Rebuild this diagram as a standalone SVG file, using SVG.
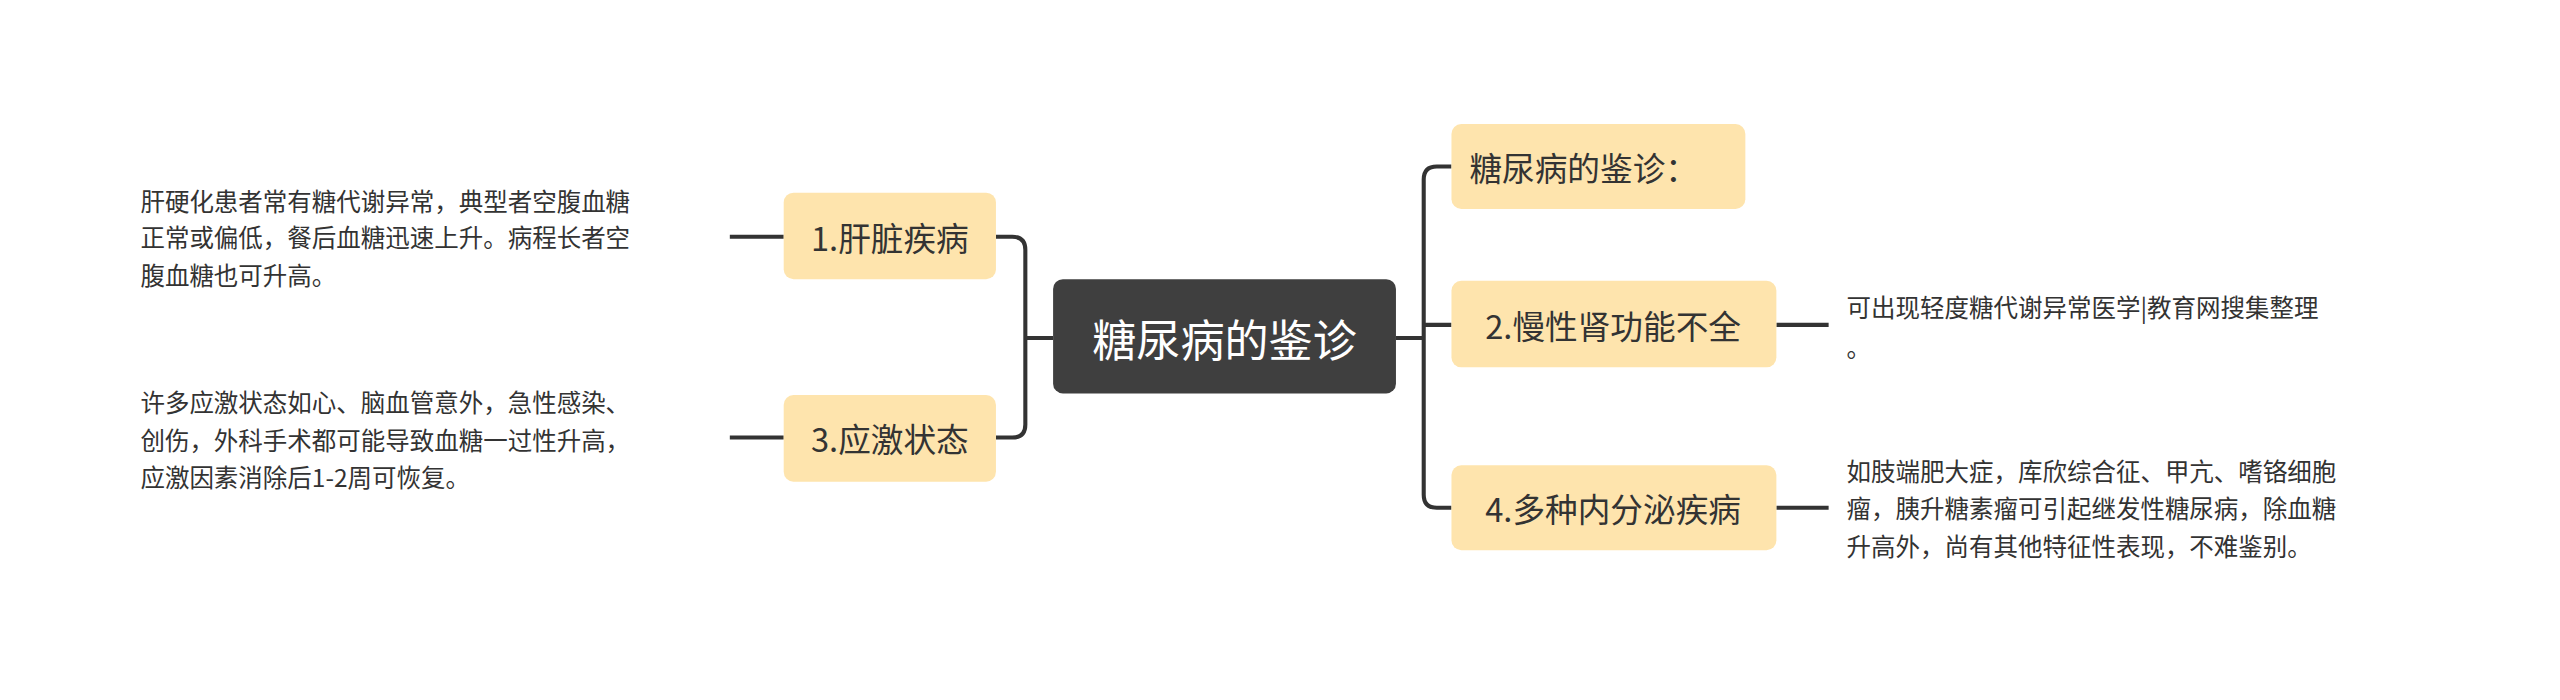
<svg xmlns="http://www.w3.org/2000/svg" width="2560" height="700" viewBox="0 0 2560 700">
<style>
.n{fill:#fee4ad}
.t{font-family:"Noto Sans CJK SC","Noto Sans",sans-serif;fill:#333;font-size:20px;dominant-baseline:central}
.l{font-family:"Noto Sans CJK SC","Noto Sans",sans-serif;fill:#333;font-size:15px;dominant-baseline:central}
.c{fill:none;stroke:#333;stroke-width:2.5}
</style>
<rect width="2560" height="700" fill="#fff"/>
<g transform="scale(1.6327)">
<g id="connectors">
<path class="c" d="M645 207H628M628 207V153Q628 145 620 145H610M628 207V260Q628 268 620 268H610"/>
<path class="c" d="M855 207H872M872 207V110Q872 102 880 102H889M872 199H889M872 207V303Q872 311 880 311H889"/>
<path class="c" d="M447 145H480M447 268H480M1088 199H1120M1088 311H1120"/>
</g>
<g id="center"><rect x="645" y="171" width="210" height="70" rx="6" fill="#3f3f3f"/><text x="750" y="207" text-anchor="middle" class="t" style="fill:#fff;font-size:27px">糖尿病的鉴诊</text></g>
<g id="n1"><rect class="n" x="480" y="118" width="130" height="53" rx="6"/><text x="545" y="145" text-anchor="middle" class="t">1.肝脏疾病</text></g>
<g id="n3"><rect class="n" x="480" y="242" width="130" height="53" rx="6"/><text x="545" y="268" text-anchor="middle" class="t">3.应激状态</text></g>
<g id="n0"><rect class="n" x="889" y="76" width="180" height="52" rx="6"/><text x="900" y="102" class="t">糖尿病的鉴诊：</text></g>
<g id="n2"><rect class="n" x="889" y="172" width="199" height="53" rx="6"/><text x="988" y="199" text-anchor="middle" class="t">2.慢性肾功能不全</text></g>
<g id="n4"><rect class="n" x="889" y="285" width="199" height="52" rx="6"/><text x="988" y="311" text-anchor="middle" class="t">4.多种内分泌疾病</text></g>
<g id="leaf1"><text class="l" x="86" y="123">肝硬化患者常有糖代谢异常，典型者空腹血糖</text><text class="l" x="86" y="145">正常或偏低，餐后血糖迅速上升。病程长者空</text><text class="l" x="86" y="168">腹血糖也可升高。</text></g>
<g id="leaf3"><text class="l" x="86" y="246">许多应激状态如心、脑血管意外，急性感染、</text><text class="l" x="86" y="269">创伤，外科手术都可能导致血糖一过性升高，</text><text class="l" x="86" y="292">应激因素消除后1-2周可恢复。</text></g>
<g id="leaf2"><text class="l" x="1131" y="188">可出现轻度糖代谢异常医学|教育网搜集整理</text><text class="l" x="1131" y="212">。</text></g>
<g id="leaf4"><text class="l" x="1131" y="288">如肢端肥大症，库欣综合征、甲亢、嗜铬细胞</text><text class="l" x="1131" y="311">瘤，胰升糖素瘤可引起继发性糖尿病，除血糖</text><text class="l" x="1131" y="334">升高外，尚有其他特征性表现，不难鉴别。</text></g>
</g>
</svg>
